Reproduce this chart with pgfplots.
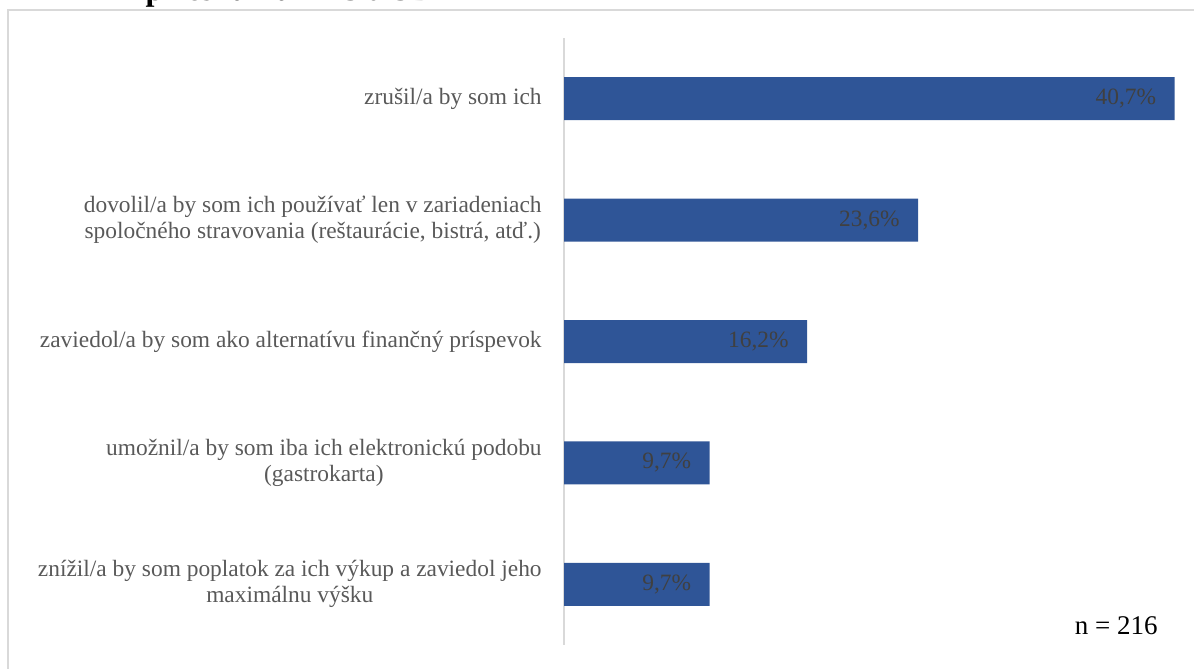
\documentclass[border=0pt]{standalone}
\usepackage{fontspec}
\setmainfont{Liberation Serif}
\usepackage{pgfplots}
\pgfplotsset{compat=1.18}
\definecolor{barblue}{HTML}{2F5597}
\definecolor{framegray}{HTML}{D9D9D9}
\definecolor{labelgray}{HTML}{595959}
\definecolor{datagray}{HTML}{404040}
\begin{document}
\begin{tikzpicture}
\useasboundingbox (0pt,0pt) rectangle (597pt,-334.5pt);
\begin{scope}
\clip (0pt,0pt) rectangle (597pt,-334.5pt);
\draw[framegray, line width=1pt] (4pt,-5pt) rectangle (610pt,-350pt);
\node[anchor=base, font=\bfseries\fontsize{16}{19}\selectfont, inner sep=0pt] at (150pt,-0.5pt) {prieskumu EPS a SBA};
\end{scope}
\begin{axis}[
  at={(282pt,-322.5pt)}, anchor=south west,
  scale only axis, width=307.5pt, height=303.5pt,
  xmin=0, xmax=41, ymin=-0.5, ymax=4.5,
  y dir=reverse,
  xbar, bar width=21.5pt,
  axis x line=none,
  axis y line=left,
  y axis line style={draw=framegray, line width=1pt, -},
  ytick={0,1,2,3,4},
  yticklabels={
    {zrušil/a by som ich},
    {dovolil/a by som ich používať len v zariadeniach\\spoločného stravovania (reštaurácie, bistrá, atď.)},
    {zaviedol/a by som ako alternatívu finančný príspevok},
    {umožnil/a by som iba ich elektronickú podobu\\(gastrokarta)},
    {znížil/a by som poplatok za ich výkup a zaviedol jeho\\maximálnu výšku}
  },
  major tick length=0pt,
  yticklabel style={align=center, font=\fontsize{11.7}{13}\selectfont, text=labelgray, inner sep=0pt, xshift=-11pt},
  point meta=explicit symbolic,
  nodes near coords,
  every node near coord/.append style={anchor=east, inner sep=0pt, xshift=-9pt, text=datagray, font=\fontsize{11.7}{13}\selectfont},
  clip=false,
]
\addplot[fill=barblue, draw=none] coordinates {
  (40.7,0) [40,7\%]
  (23.6,1) [23,6\%]
  (16.2,2) [16,2\%]
  (9.7,3) [9,7\%]
  (9.7,4) [9,7\%]
};
\end{axis}
\node[anchor=base east, font=\fontsize{13.5}{16}\selectfont, inner sep=0pt] at (579pt,-317pt) {n = 216};
\end{tikzpicture}
\end{document}
